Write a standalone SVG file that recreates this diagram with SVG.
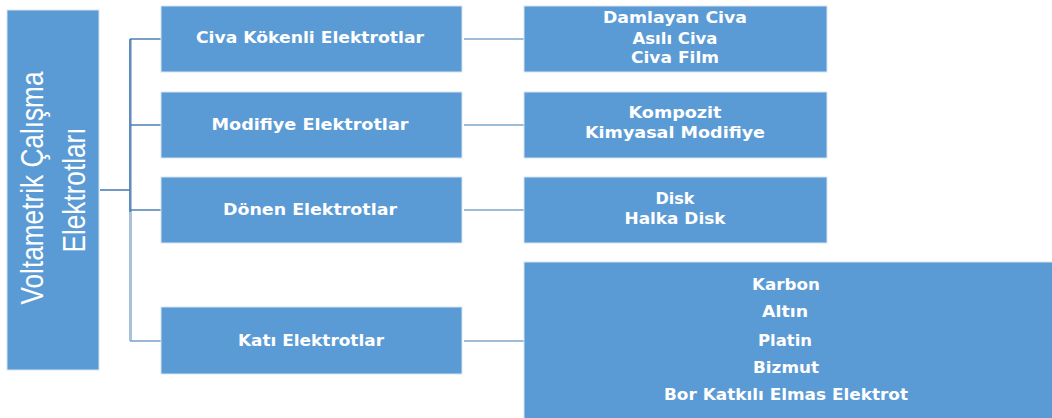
<svg xmlns="http://www.w3.org/2000/svg" width="1052" height="418" viewBox="0 0 1052 418">
<style>
.box{fill:#5b9bd5;stroke:#d6e4f2;stroke-width:1}
.t{fill:#fff;font-family:"DejaVu Sans","Liberation Sans",sans-serif;font-size:15.5px;font-weight:600;text-anchor:middle}
.r{fill:#fff;font-family:"Liberation Sans","DejaVu Sans",sans-serif;font-size:32px;text-anchor:middle}
.c{fill:none;stroke:#4f7fb3;stroke-width:1.6}
.cl{fill:none;stroke:#7fa5cc;stroke-width:1.6}
</style>
<rect width="1052" height="418" fill="#fff"/>
<g id="connectors">
<path d="M130.5 39 V341" fill="none" stroke="#a9c1da" stroke-width="3"/>
<path class="c" d="M130 39 V212"/>
<path class="c" d="M100 190 H130"/>
<path class="c" d="M130 39 H161 M130 125 H161 M130 210 H161"/>
<path class="cl" d="M130 341 H161"/>
<path class="cl" d="M464 39 H524 M464 125 H524 M464 210 H524 M464 341 H524"/>
</g>
<g id="root">
<rect class="box" x="7" y="10" width="92" height="360"/>
<text class="r" transform="translate(43,188) rotate(-90)" textLength="233" lengthAdjust="spacingAndGlyphs">Voltametrik Çalışma</text>
<text class="r" transform="translate(85,190) rotate(-90)" textLength="125" lengthAdjust="spacingAndGlyphs">Elektrotları</text>
</g>
<g id="civa">
<rect class="box" x="161" y="6" width="301" height="66"/>
<text class="t" x="310" y="43" textLength="228" lengthAdjust="spacingAndGlyphs">Civa Kökenli Elektrotlar</text>
</g>
<g id="modifiye">
<rect class="box" x="161" y="92" width="301" height="66"/>
<text class="t" x="310" y="130" textLength="197" lengthAdjust="spacingAndGlyphs">Modifiye Elektrotlar</text>
</g>
<g id="donen">
<rect class="box" x="161" y="177" width="301" height="66"/>
<text class="t" x="310" y="215" textLength="174" lengthAdjust="spacingAndGlyphs">Dönen Elektrotlar</text>
</g>
<g id="kati">
<rect class="box" x="161" y="307" width="301" height="67"/>
<text class="t" x="311" y="346" textLength="146" lengthAdjust="spacingAndGlyphs">Katı Elektrotlar</text>
</g>
<g id="civa-types">
<rect class="box" x="524" y="6" width="303" height="66"/>
<text class="t" x="675" y="23" textLength="144" lengthAdjust="spacingAndGlyphs">Damlayan Civa</text>
<text class="t" x="675" y="44" textLength="85" lengthAdjust="spacingAndGlyphs">Asılı Civa</text>
<text class="t" x="675" y="63" textLength="88" lengthAdjust="spacingAndGlyphs">Civa Film</text>
</g>
<g id="modifiye-types">
<rect class="box" x="524" y="92" width="303" height="66"/>
<text class="t" x="675" y="118" textLength="93" lengthAdjust="spacingAndGlyphs">Kompozit</text>
<text class="t" x="675" y="138" textLength="180" lengthAdjust="spacingAndGlyphs">Kimyasal Modifiye</text>
</g>
<g id="donen-types">
<rect class="box" x="524" y="177" width="303" height="66"/>
<text class="t" x="675" y="204" textLength="39" lengthAdjust="spacingAndGlyphs">Disk</text>
<text class="t" x="675" y="224" textLength="101" lengthAdjust="spacingAndGlyphs">Halka Disk</text>
</g>
<g id="kati-types">
<rect class="box" x="524" y="262" width="530" height="160"/>
<text class="t" x="786" y="290" textLength="68" lengthAdjust="spacingAndGlyphs">Karbon</text>
<text class="t" x="785" y="317" textLength="46" lengthAdjust="spacingAndGlyphs">Altın</text>
<text class="t" x="785" y="346" textLength="54" lengthAdjust="spacingAndGlyphs">Platin</text>
<text class="t" x="786" y="373" textLength="66" lengthAdjust="spacingAndGlyphs">Bizmut</text>
<text class="t" x="786" y="400" textLength="244" lengthAdjust="spacingAndGlyphs">Bor Katkılı Elmas Elektrot</text>
</g>
</svg>
